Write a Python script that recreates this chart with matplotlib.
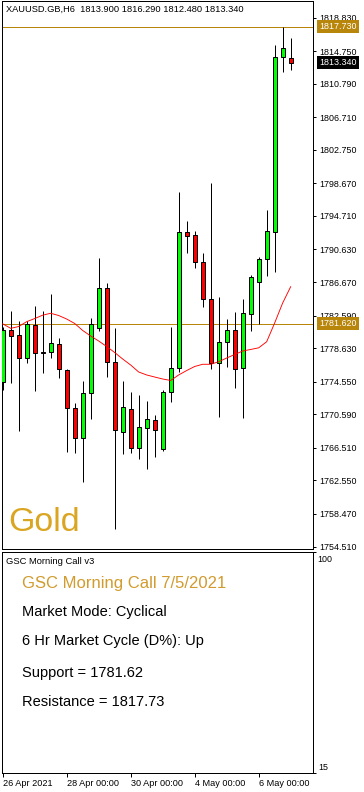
import matplotlib
matplotlib.use('Agg')
import matplotlib.pyplot as plt
from matplotlib.transforms import blended_transform_factory

# ---------------- data ----------------
symbol_header = "XAUUSD.GB,H6  1813.900 1816.290 1812.480 1813.340"
opens = [1774.55, 1780.84, 1780.20, 1777.40, 1781.44, 1778.15, 1778.13, 1779.10, 1775.97, 1771.32,
         1767.67, 1773.14, 1781.14, 1785.91, 1776.98, 1768.47, 1771.20, 1766.45, 1768.89, 1769.86,
         1766.33, 1773.26, 1776.18, 1792.71, 1792.35, 1789.07, 1784.57, 1776.79, 1779.34, 1780.80,
         1776.18, 1782.75, 1786.64, 1789.43, 1792.81, 1814.06, 1813.90]
highs = [1781.20, 1783.15, 1781.93, 1781.93, 1783.75, 1783.15, 1785.21, 1779.83, 1776.06, 1771.92,
         1774.64, 1782.26, 1789.55, 1786.51, 1781.04, 1774.64, 1773.26, 1772.93, 1772.20, 1770.50,
         1773.54, 1781.16, 1797.58, 1794.09, 1792.87, 1790.20, 1798.67, 1784.85, 1782.17, 1783.02,
         1784.61, 1787.52, 1789.68, 1795.43, 1815.49, 1817.73, 1816.29]
lows = [1773.54, 1774.43, 1768.59, 1776.86, 1773.46, 1775.64, 1777.47, 1775.04, 1766.04, 1765.92,
        1762.32, 1769.98, 1780.75, 1775.16, 1756.61, 1765.72, 1765.92, 1765.12, 1763.90, 1765.36,
        1766.10, 1772.05, 1775.77, 1790.16, 1788.41, 1783.60, 1776.06, 1770.29, 1776.37, 1773.82,
        1770.10, 1780.75, 1781.62, 1787.40, 1787.92, 1812.24, 1812.48]
closes = [1780.84, 1780.14, 1777.40, 1781.57, 1778.00, 1778.10, 1779.26, 1776.06, 1771.32, 1767.67,
          1773.14, 1781.57, 1785.91, 1776.98, 1768.68, 1771.51, 1766.45, 1769.01, 1769.98, 1768.68,
          1773.26, 1776.18, 1792.71, 1792.30, 1789.07, 1784.57, 1776.79, 1779.34, 1780.80, 1776.06,
          1782.87, 1787.24, 1789.43, 1792.84, 1813.99, 1815.09, 1813.34]
ma = [1781.59, 1781.04, 1781.26, 1781.85, 1782.23, 1782.64, 1782.87, 1782.60, 1782.17, 1781.63,
      1780.78, 1780.11, 1779.50, 1778.83, 1778.10, 1777.31, 1776.58, 1775.73, 1775.37, 1775.12,
      1774.88, 1774.70, 1775.37, 1775.91, 1776.40, 1776.67, 1776.67, 1776.98, 1777.43, 1777.86,
      1778.28, 1778.47, 1778.67, 1779.41, 1781.69, 1784.12, 1786.10]
price_ticks = [1818.83, 1814.75, 1810.79, 1806.71, 1802.75, 1798.67, 1794.71, 1790.63, 1786.67,
               1782.59, 1778.63, 1774.55, 1770.59, 1766.51, 1762.55, 1758.47, 1754.51]
date_tick_bars = [0, 8, 16, 24, 32]
date_tick_labels = ["26 Apr 2021", "28 Apr 00:00", "30 Apr 00:00", "4 May 00:00", "6 May 00:00"]
support = 1781.62
resistance = 1817.73
last_price = 1813.34
panel_title = "GSC Morning Call v3"
info_title = "GSC Morning Call 7/5/2021"
info_lines = ["Market Mode: Cyclical", "6 Hr Market Cycle (D%): Up",
              "Support = 1781.62", "Resistance = 1817.73"]
sub_ticks = ["100", "15"]

# ---------------- style ----------------
W, H = 364, 792
GOLD_LINE = '#B8860B'
GOLD_TEXT = '#DAA520'
TITLE_COL = '#D19B2E'
UP = '#00FF00'
DN = '#FF0000'
FONT = 'Liberation Sans'

fig = plt.figure(figsize=(W / 72, H / 72), dpi=72)
fig.patch.set_facecolor('white')

def fx(px):
    return px / W

def fy(py):
    return 1 - py / H

L, R = 1.5, 313.3
ax = fig.add_axes([fx(L), fy(549), fx(R) - fx(L), fy(0.5) - fy(549)])
ax2 = fig.add_axes([fx(L), fy(772.7), fx(R) - fx(L), fy(551.7) - fy(772.7)])

n = len(opens)
xs = list(range(n))
xlim = (-0.15, 38.83)

# wicks
ax.vlines(xs, lows, highs, color='black', lw=1, zorder=2)
# bodies
bottoms = [min(o, c) for o, c in zip(opens, closes)]
heights = [max(abs(c - o), 0.04) for o, c in zip(opens, closes)]
cols = [UP if c > o else DN for o, c in zip(opens, closes)]
ax.bar(xs, heights, bottom=bottoms, width=0.47, color=cols, edgecolor='black',
       linewidth=1, zorder=3)
# moving average
ax.plot(xs, ma, color='#FF0000', lw=0.9, zorder=4)
# support / resistance
ax.axhline(resistance, color=GOLD_LINE, lw=1, zorder=1)
ax.axhline(support, color=GOLD_LINE, lw=1, zorder=1)

ax.set_xlim(*xlim)
ax.set_ylim(1754.21, 1820.90)
ax.set_xticks([])
ax.yaxis.tick_right()
ax.set_yticks(price_ticks)
ax.set_yticklabels([f"{v:.3f}" for v in price_ticks], fontfamily=FONT, fontsize=8.9)
ax.tick_params(axis='y', length=3, width=1, pad=3.2, colors='black')
for s in ax.spines.values():
    s.set_linewidth(1)
    s.set_color('black')

# price labels on the axis
blend = blended_transform_factory(ax.transAxes, ax.transData)
for val, bg in [(resistance, GOLD_LINE), (support, GOLD_LINE), (last_price, 'black')]:
    ax.annotate(f"{val:.3f}", xy=(1.0, val), xycoords=blend, xytext=(6.2, 0),
                textcoords='offset pixels', ha='left', va='center', color='white',
                fontfamily=FONT, fontsize=8.9, annotation_clip=False, zorder=10,
                bbox=dict(boxstyle='square,pad=0.25', fc=bg, ec='none'))

# header and Gold
fig.text(fx(6), fy(11.5), symbol_header, fontfamily=FONT, fontsize=9.2, va='baseline', ha='left')
fig.text(fx(8.5), fy(530.7), "Gold", fontfamily=FONT, fontsize=34, color=GOLD_TEXT,
         va='baseline', ha='left')

# ---------------- lower panel ----------------
ax2.set_xlim(*xlim)
ax2.set_ylim(15, 100)
ax2.yaxis.tick_right()
ax2.set_yticks([15, 100])
ax2.set_yticklabels(['', ''])
ax2.tick_params(axis='y', length=3, width=1)
ax2.set_xticks(date_tick_bars)
ax2.set_xticklabels(date_tick_labels, fontfamily=FONT, fontsize=9.1, ha='left')
ax2.tick_params(axis='x', length=4, width=1, pad=2)
for s in ax2.spines.values():
    s.set_linewidth(1)
    s.set_color('black')

fig.text(fx(317.7), fy(561.7), sub_ticks[0], fontfamily=FONT, fontsize=8.9, va='baseline', ha='left')
fig.text(fx(318.3), fy(770), sub_ticks[1], fontfamily=FONT, fontsize=8.9, va='baseline', ha='left')

fig.text(fx(6), fy(564), panel_title, fontfamily=FONT, fontsize=9.4, va='baseline', ha='left')
fig.text(fx(21.7), fy(588), info_title, fontfamily=FONT, fontsize=16.6, color=TITLE_COL,
         va='baseline', ha='left')
for yb, line in zip([616, 645.5, 676.5, 706.5], info_lines):
    fig.text(fx(21.7), fy(yb), line, fontfamily=FONT, fontsize=14.6, color='black',
             va='baseline', ha='left')

fig.savefig('out.png', dpi=72, facecolor='white')
